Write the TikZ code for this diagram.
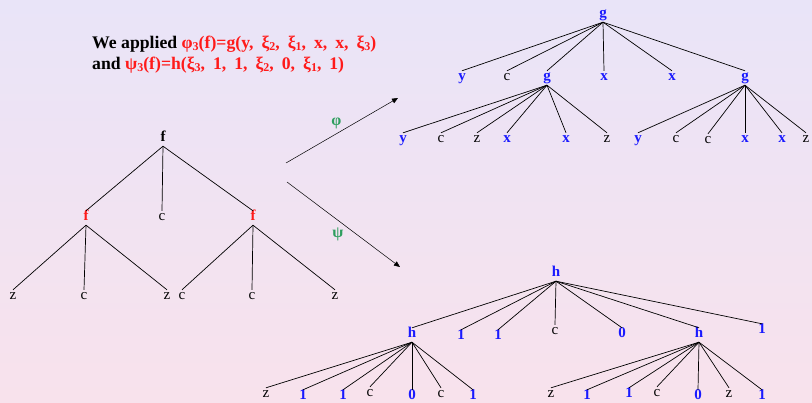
\documentclass[tikz,border=0pt]{standalone}
\usepackage{fontspec}
\setmainfont{Liberation Serif}
\usetikzlibrary{arrows.meta,positioning}
\definecolor{bgtop}{HTML}{E9E4F8}
\definecolor{bgbot}{HTML}{F8E2EC}
\definecolor{symred}{HTML}{FF1A1A}
\definecolor{symblue}{HTML}{1A1AFF}
\definecolor{mapgreen}{HTML}{2E9E5E}
\tikzset{
  lbl/.style={inner sep=1pt, text height=9pt, text depth=3pt, anchor=base, font=\fontsize{15}{15}\selectfont},
  boldlbl/.style={lbl, font=\fontsize{15}{15}\selectfont\bfseries},
  redlbl/.style={boldlbl, text=symred},
  bluelbl/.style={boldlbl, text=symblue},
  branch/.style={line width=0.7pt},
  thinarrow/.style={-{Triangle[length=6pt,width=5pt]}, line width=0.5pt},
  maplbl/.style={text=mapgreen, font=\fontsize{16}{16}\selectfont\bfseries},
}
\newcommand{\lowidx}[1]{\raisebox{-0.25ex}{\fontsize{12}{12}\selectfont #1}}
\newcommand{\redterm}[1]{{\color{symred}\spaceskip=0.45em plus 0.1em #1}}

\begin{document}
\begin{tikzpicture}[x=1pt, y=-1pt]
  \fill[top color=bgtop, bottom color=bgbot] (0,0) rectangle (812,403);
  \useasboundingbox (0,0) rectangle (812,403);

  \node[anchor=north west, inner sep=0pt, align=left, font=\fontsize{17.7}{21}\selectfont\bfseries] (intro) at (92,36)
    {We applied \redterm{φ\lowidx{3}(f)=g(y, ξ\lowidx{2}, ξ\lowidx{1}, x, x, ξ\lowidx{3})}\\
     and \redterm{ψ\lowidx{3}(f)=h(ξ\lowidx{3}, 1, 1, ξ\lowidx{2}, 0, ξ\lowidx{1}, 1)}};

  % source tree
  \node[boldlbl] (f0) at (163,142) {f};
  \node[redlbl] (fL) at (86,221) {f};
  \node[lbl] (fC) at (162,221) {c};
  \node[redlbl] (fR) at (253,221) {f};
  \node[lbl] (fLa) at (13,300) {z};
  \node[lbl] (fLb) at (84,300) {c};
  \node[lbl] (fLc) at (167,300) {z};
  \node[lbl] (fRa) at (182,300) {c};
  \node[lbl] (fRb) at (252,300) {c};
  \node[lbl] (fRc) at (335,300) {z};
  \foreach \k in {fL,fC,fR} \draw[branch] (f0.south) -- (\k.north);
  \foreach \k in {fLa,fLb,fLc} \draw[branch] (fL.south) -- (\k.north);
  \foreach \k in {fRa,fRb,fRc} \draw[branch] (fR.south) -- (\k.north);

  % the two maps
  \coordinate (phiA) at (286,163);
  \coordinate (phiB) at (398,98);
  \coordinate (psiA) at (287,182);
  \coordinate (psiB) at (400,267);
  \draw[thinarrow] (phiA) -- node[maplbl, pos=0.45, yshift=10pt] (phi) {φ} (phiB);
  \draw[thinarrow] (psiA) -- node[maplbl, pos=0.45, yshift=-14pt] (psi) {ψ} (psiB);

  % image under phi
  \node[bluelbl] (g0) at (603,18) {g};
  \node[bluelbl] (g1) at (462,81) {y};
  \node[lbl] (g2) at (507,81) {c};
  \node[bluelbl] (gL) at (547,81) {g};
  \node[bluelbl] (g4) at (604,81) {x};
  \node[bluelbl] (g5) at (672,81) {x};
  \node[bluelbl] (gR) at (745,81) {g};
  \node[bluelbl] (gLa) at (403,143) {y};
  \node[lbl] (gLb) at (441,143) {c};
  \node[lbl] (gLc) at (477,143) {z};
  \node[bluelbl] (gLd) at (507,143) {x};
  \node[bluelbl] (gLe) at (566,143) {x};
  \node[lbl] (gLf) at (607,143) {z};
  \node[bluelbl] (gRa) at (638,143) {y};
  \node[lbl] (gRb) at (676,143) {c};
  \node[lbl] (gRc) at (708,144) {c};
  \node[bluelbl] (gRd) at (745,143) {x};
  \node[bluelbl] (gRe) at (782,143) {x};
  \node[lbl] (gRf) at (806,143) {z};
  \foreach \k in {g1,g2,gL,g4,g5,gR} \draw[branch] (g0.south) -- (\k.north);
  \foreach \k in {gLa,gLb,gLc,gLd,gLe,gLf} \draw[branch] (gL.south) -- (\k.north);
  \foreach \k in {gRa,gRb,gRc,gRd,gRe,gRf} \draw[branch] (gR.south) -- (\k.north);

  % image under psi
  \node[bluelbl] (h0) at (556,277) {h};
  \node[bluelbl] (hL) at (412,338) {h};
  \node[bluelbl] (h2) at (461,340) {1};
  \node[bluelbl] (h3) at (498,340) {1};
  \node[lbl] (h4) at (555,335) {c};
  \node[bluelbl] (h5) at (622,338) {0};
  \node[bluelbl] (hR) at (699,338) {h};
  \node[bluelbl] (h7) at (762,334) {1};
  \node[lbl] (hLa) at (266,398) {z};
  \node[bluelbl] (hLb) at (303,400) {1};
  \node[bluelbl] (hLc) at (343,400) {1};
  \node[lbl] (hLd) at (370,397) {c};
  \node[bluelbl] (hLe) at (412,400) {0};
  \node[lbl] (hLf) at (441,398) {c};
  \node[bluelbl] (hLg) at (473,400) {1};
  \node[lbl] (hRa) at (551,398) {z};
  \node[bluelbl] (hRb) at (587,400) {1};
  \node[bluelbl] (hRc) at (629,398) {1};
  \node[lbl] (hRd) at (657,397) {c};
  \node[bluelbl] (hRe) at (698,400) {0};
  \node[lbl] (hRf) at (729,398) {z};
  \node[bluelbl] (hRg) at (762,400) {1};
  \foreach \k in {hL,h2,h3,h4,h5,hR,h7} \draw[branch] (h0.south) -- (\k.north);
  \foreach \k in {hLa,hLb,hLc,hLd,hLe,hLf,hLg} \draw[branch] (hL.south) -- (\k.north);
  \foreach \k in {hRa,hRb,hRc,hRd,hRe,hRf,hRg} \draw[branch] (hR.south) -- (\k.north);
\end{tikzpicture}
\end{document}
